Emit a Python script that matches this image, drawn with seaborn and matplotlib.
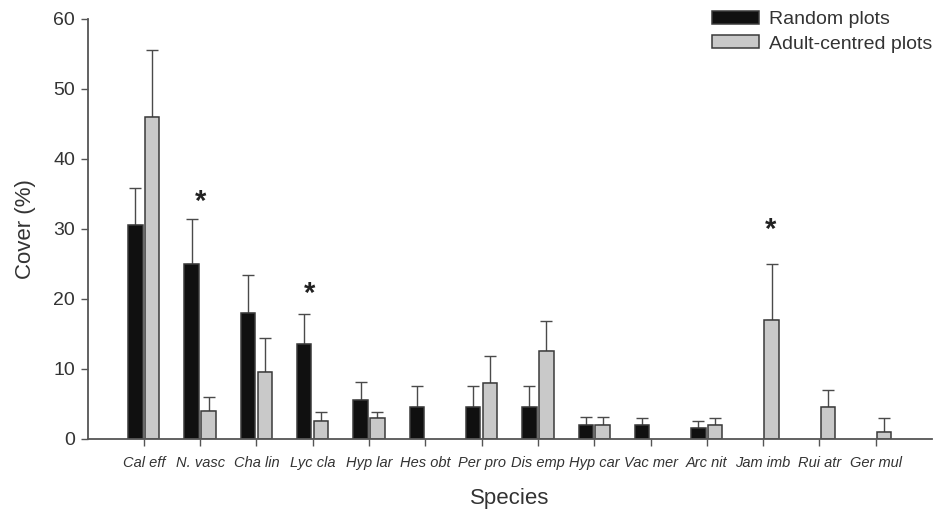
import numpy as np
import pandas as pd
import matplotlib
matplotlib.use("Agg")
import matplotlib.pyplot as plt
import seaborn as sns

species = ["Cal eff", "N. vasc", "Cha lin", "Lyc cla", "Hyp lar", "Hes obt", "Per pro",
           "Dis emp", "Hyp car", "Vac mer", "Arc nit", "Jam imb", "Rui atr", "Ger mul"]
groups = ["Random plots", "Adult-centred plots"]
# NaN = species absent in that plot type (no bar drawn)
random_mean = [30.5, 25.0, 18.0, 13.5, 5.5, 4.5, 4.5, 4.5, 2.0, 2.0, 1.5, np.nan, np.nan, np.nan]
random_err = [5.3, 6.4, 5.4, 4.4, 2.6, 3.1, 3.1, 3.1, 1.2, 1.0, 1.0, np.nan, np.nan, np.nan]
adult_mean = [46.0, 4.0, 9.6, 2.5, 3.0, np.nan, 8.0, 12.5, 2.0, np.nan, 2.0, 17.0, 4.5, 1.05]
adult_err = [9.5, 2.0, 4.8, 1.3, 0.8, np.nan, 3.9, 4.3, 1.2, np.nan, 1.0, 8.0, 2.5, 1.9]
# significance markers: (species, offset within group, height)
sig_species = ["N. vasc", "Lyc cla", "Jam imb"]
sig_offset = [0.0, -0.05, 0.13]
sig_y = [33.8, 20.7, 29.9]

df = pd.DataFrame({
    "Species": species * 2,
    "Group": [groups[0]] * len(species) + [groups[1]] * len(species),
    "Cover": random_mean + adult_mean,
})

sns.set_style("white")
plt.rcParams["font.family"] = ["Liberation Sans", "DejaVu Sans"]

fig = plt.figure(figsize=(9.38, 5.12), dpi=100)
ax = fig.add_axes([0.0933, 0.1426, 0.9003, 0.8203])

palette = {groups[0]: "#101010", groups[1]: "#c9c9c9"}
sns.barplot(data=df, x="Species", y="Cover", hue="Group", order=species,
            hue_order=groups, palette=palette, width=0.6, gap=0.15,
            edgecolor="#3a3a3a", linewidth=1.1, saturation=1, errorbar=None, ax=ax)

errs = [random_err, adult_err]
bar_containers = list(ax.containers)
for cont, err in zip(bar_containers, errs):
    xs, hs, es = [], [], []
    for b in cont:
        h = b.get_height()
        if not np.isfinite(h) or h == 0:
            b.set_visible(False)
            continue
        xc = b.get_x() + b.get_width() / 2
        idx = int(round(xc))
        xs.append(xc)
        hs.append(h)
        es.append(err[idx])
    es = np.array(es, dtype=float)
    ax.errorbar(xs, hs, yerr=[np.zeros_like(es), es], fmt="none", ecolor="#4a4a4a",
                elinewidth=1.0, capsize=4, capthick=1.0, zorder=0.5)

for s, off, y in zip(sig_species, sig_offset, sig_y):
    ax.text(species.index(s) + off, y, "*", ha="center", va="center",
            fontsize=21, fontweight="bold", color="#222222")

ax.set_xlim(-1, 14)
ax.set_ylim(0, 60)
ax.set_yticks(range(0, 61, 10))
ax.set_xticks(range(len(species)))
ax.set_xticklabels(species, fontstyle="italic", fontsize=10.5, color="#333333")
ax.tick_params(axis="y", labelsize=14, labelcolor="#333333", length=5, width=1.0,
               color="#555555", direction="out", left=True, pad=4)
ax.tick_params(axis="x", length=5, width=1.0, color="#555555", direction="out",
               bottom=True, pad=7)
ax.set_xlabel("Species", fontsize=16, color="#333333", labelpad=13)
ax.set_ylabel("Cover (%)", fontsize=16, color="#333333", labelpad=12)

for sp in ["top", "right"]:
    ax.spines[sp].set_visible(False)
for sp in ["left", "bottom"]:
    ax.spines[sp].set_color("#555555")
    ax.spines[sp].set_linewidth(1.3)

handles, labels = ax.get_legend_handles_labels()
ax.legend(handles, labels, loc="upper right", bbox_to_anchor=(932 / 938, 1 - 11 / 512),
          bbox_transform=fig.transFigure, frameon=False, fontsize=14,
          handlelength=2.42, handleheight=0.67, handletextpad=0.5,
          labelspacing=0.35, borderpad=0, borderaxespad=0, labelcolor="#333333")

fig.savefig("out.png", dpi=100)
